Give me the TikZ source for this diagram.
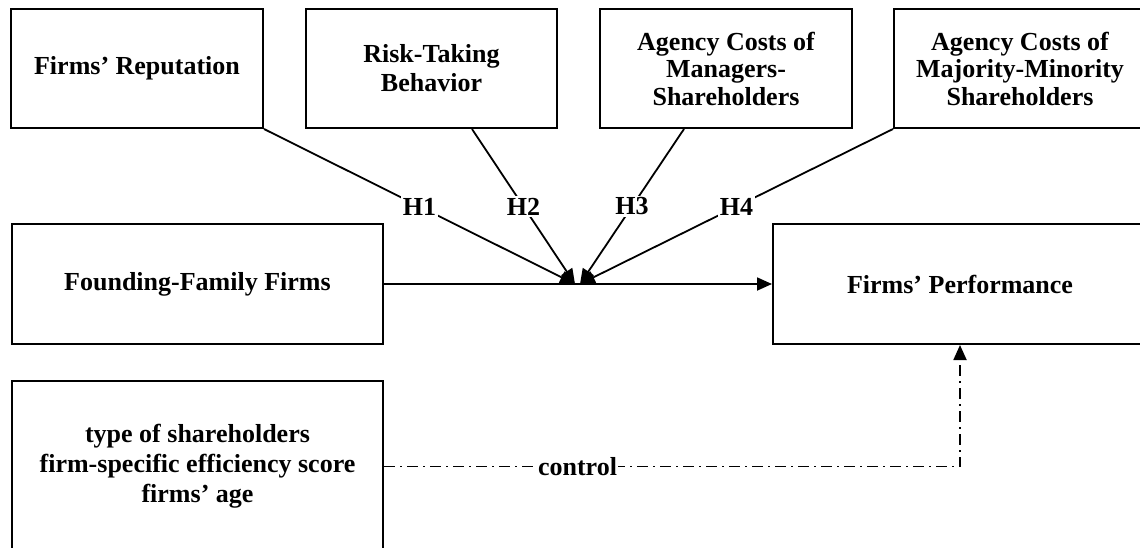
\documentclass[tikz,border=0pt]{standalone}
\usepackage{fontspec}
\setmainfont{Liberation Serif}
\usetikzlibrary{arrows.meta}
\tikzset{
  box/.style={draw, line width=2pt, rectangle, align=center, inner sep=0pt},
  hlab/.style={fill=white, inner sep=2pt},
  arr/.style={-{Triangle[length=15pt,width=13pt]}},
  conn/.style={line width=1.8pt},
  dashdot/.style={dash pattern=on 11pt off 5pt on 2pt off 5pt}
}
\begin{document}
\begin{tikzpicture}[x=1pt,y=-1pt,font=\bfseries\fontsize{26}{29}\selectfont]
\useasboundingbox (0,0) rectangle (1140,547);
\node[box, minimum width=252pt, minimum height=119pt] (b1) at (137,68.5) {Firms’ Reputation};
\node[box, minimum width=251pt, minimum height=119pt] (b2) at (431.5,68.5) {Risk-Taking\\Behavior};
\node[box, minimum width=252pt, minimum height=119pt, font=\bfseries\fontsize{26}{27.5}\selectfont] (b3) at (726,68.5) {Agency Costs of\\Managers-\\Shareholders};
\node[box, minimum width=252pt, minimum height=119pt, font=\bfseries\fontsize{26}{27.5}\selectfont] (b4) at (1020,68.5) {Agency Costs of\\Majority-Minority\\Shareholders};
\node[box, minimum width=371pt, minimum height=120pt] (ff) at (197.5,284) {Founding-Family Firms};
\node[box, minimum width=374pt, minimum height=120pt] (perf) at (960,284) {Firms’ Performance};
\node[box, minimum width=371pt, minimum height=171pt, font=\bfseries\fontsize{26}{30}\selectfont] (ctrl) at (197.5,466.5) {type of shareholders\\firm-specific efficiency score\\firms’ age};
\coordinate (m1) at (575,284);
\coordinate (m2) at (580,284);
\draw[conn, arr] (ff.east) -- (perf.west);
\draw[conn, arr] (b1.south east) -- node[hlab] {H1} (m1);
\draw[conn, arr] ([xshift=40.5pt]b2.south) -- node[hlab] {H2} (m1);
\draw[conn, arr] ([xshift=-42pt]b3.south) -- node[hlab] {H3} (m2);
\draw[conn, arr] (b4.south west) -- node[hlab] {H4} (m2);
\draw[conn, dashdot, arr] (ctrl.east) -| node[pos=0.168, fill=white, inner sep=1pt] {control} (perf.south);
\end{tikzpicture}
\end{document}
